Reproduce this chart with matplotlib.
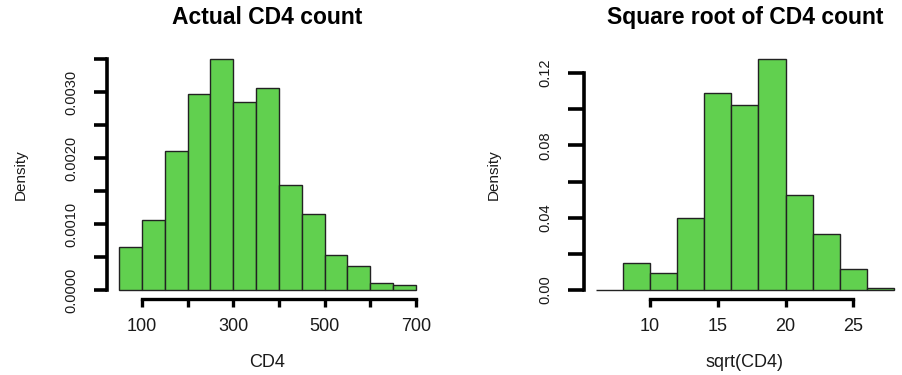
import numpy as np
import matplotlib
matplotlib.use("Agg")
import matplotlib.pyplot as plt

plt.rcParams["font.family"] = ["Liberation Sans", "DejaVu Sans"]

# histogram densities (bin edges + density per bin)
cd4_edges = [50, 100, 150, 200, 250, 300, 350, 400, 450, 500, 550, 600, 650, 700]
cd4_density = [0.00065, 0.00106, 0.00211, 0.00298, 0.00350, 0.00285, 0.00306,
               0.00160, 0.00116, 0.00053, 0.00037, 0.00010, 0.00007]

sqrt_edges = [6, 8, 10, 12, 14, 16, 18, 20, 22, 24, 26, 28]
sqrt_density = [0.0, 0.0151, 0.0092, 0.0397, 0.1089, 0.1023, 0.1277,
                0.0526, 0.0310, 0.0115, 0.0011]

cd4_xticks = [100, 200, 300, 400, 500, 600, 700]
cd4_xlabels = ["100", "", "300", "", "500", "", "700"]
cd4_yticks = [0, 0.0005, 0.001, 0.0015, 0.002, 0.0025, 0.003, 0.0035]
cd4_ylabels = ["0.0000", "", "0.0010", "", "0.0020", "", "0.0030", ""]

sqrt_xticks = [10, 15, 20, 25]
sqrt_xlabels = ["10", "15", "20", "25"]
sqrt_yticks = [0, 0.02, 0.04, 0.06, 0.08, 0.10, 0.12]
sqrt_ylabels = ["0.00", "", "0.04", "", "0.08", "", "0.12"]

fill = "#61D04F"
txt = "#1a1a1a"

fig = plt.figure(figsize=(9.03, 3.75), dpi=100)
ax1 = fig.add_axes([0.1188, 0.2021, 0.3550, 0.6643])
ax2 = fig.add_axes([0.6465, 0.2021, 0.3567, 0.6643])


def r_hist(ax, edges, dens, xticks, xlabels, yticks, ylabels, title, xlabel, ytick_len):
    edges = np.asarray(edges, dtype=float)
    ax.bar(edges[:-1], dens, width=np.diff(edges), align="edge",
           color=fill, edgecolor="#222222", linewidth=1.0)
    # R-style 4% padding around the data range
    xr = edges[-1] - edges[0]
    ymax = max(dens)
    ax.set_xlim(edges[0] - 0.04 * xr, edges[-1] + 0.04 * xr)
    ax.set_ylim(-0.04 * ymax, ymax * 1.04)

    for s in ("top", "right"):
        ax.spines[s].set_visible(False)
    ax.spines["left"].set_bounds(yticks[0], yticks[-1])
    ax.spines["bottom"].set_bounds(xticks[0], xticks[-1])
    ax.spines["left"].set_linewidth(2.6)
    ax.spines["bottom"].set_linewidth(2.4)

    ax.set_xticks(xticks)
    ax.set_xticklabels(xlabels)
    ax.set_yticks(yticks)
    ax.set_yticklabels(ylabels, rotation=90, va="center")
    ax.tick_params(axis="x", length=5.5, width=2.4, pad=8, labelsize=13,
                   colors="black", labelcolor=txt)
    ax.tick_params(axis="y", length=ytick_len, width=2.6, pad=11, labelsize=10.5,
                   colors="black", labelcolor=txt)

    ax.set_title(title, fontsize=16.5, fontweight="bold", pad=19)
    ax.set_xlabel(xlabel, fontsize=13, color=txt, labelpad=14)
    ax.set_ylabel("Density", fontsize=11, color=txt, labelpad=27)


r_hist(ax1, cd4_edges, cd4_density, cd4_xticks, cd4_xlabels, cd4_yticks, cd4_ylabels,
       "Actual CD4 count", "CD4", 9.5)
r_hist(ax2, sqrt_edges, sqrt_density, sqrt_xticks, sqrt_xlabels, sqrt_yticks, sqrt_ylabels,
       "Square root of CD4 count", "sqrt(CD4)", 11.5)

fig.savefig("out.png", dpi=100)
